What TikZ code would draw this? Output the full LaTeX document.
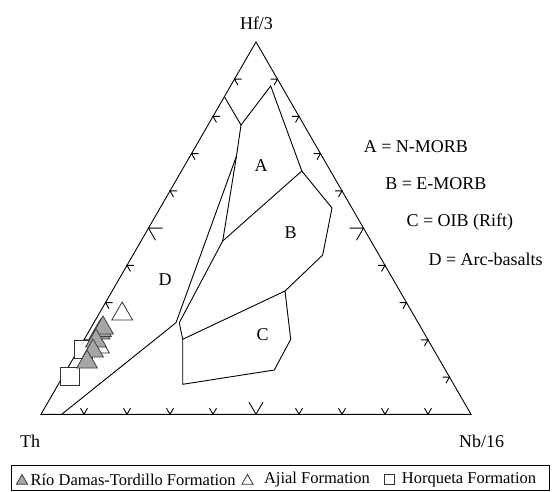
\documentclass[tikz,border=0pt]{standalone}
\usepackage{fontspec}
\setmainfont{Liberation Serif}
\usetikzlibrary{calc, shapes.geometric}

\begin{document}
\begin{tikzpicture}[
  x=1pt, y=-1pt,
  line width=0.9pt,
  every node/.style={font=\fontsize{18}{21}\selectfont},
  key/.style={anchor=west},
  rdt/.style={regular polygon, regular polygon sides=3, minimum size=24pt, inner sep=0pt, draw=black!75, fill=black!35, line width=0.8pt},
  ajial/.style={regular polygon, regular polygon sides=3, minimum size=24pt, inner sep=0pt, draw=black!80, fill=white, line width=0.8pt},
  horq/.style={rectangle, minimum size=18pt, inner sep=0pt, draw=black!80, fill=white, line width=0.8pt},
  legend/.style={font=\fontsize{16.5}{19}\selectfont, anchor=west, inner sep=0pt}
]

\useasboundingbox (0,0) rectangle (557,491);

% Triangle corners
\coordinate (top) at (256,41.9);
\coordinate (bl) at (41,414.3);
\coordinate (br) at (471,414.3);

\draw (top) -- (bl) -- (br) -- cycle;

% Ticks
\foreach \i in {1,...,9} {
  \pgfmathsetmacro{\ticklen}{ifthenelse(\i==5,14,7)}
  \draw ($(top)!\i/10!(bl)$) ++(\ticklen,0) -- ++(-\ticklen,0) -- ++(0.5*\ticklen,0.866*\ticklen);
  \draw ($(top)!\i/10!(br)$) ++(-\ticklen,0) -- ++(\ticklen,0) -- ++(-0.5*\ticklen,0.866*\ticklen);
  \draw ($(bl)!\i/10!(br)$) ++(-0.5*\ticklen,-0.866*\ticklen) -- ++(0.5*\ticklen,0.866*\ticklen) -- ++(0.5*\ticklen,-0.866*\ticklen);
}

% Field boundaries
\coordinate (p1) at (224.4,96.7);
\coordinate (p2) at (241,125);
\coordinate (p3) at (270.7,86);
\coordinate (p4) at (301.8,171);
\coordinate (p5) at (332,208);
\coordinate (p6) at (322.7,255);
\coordinate (q) at (236.5,156);
\coordinate (j) at (222.7,241);
\coordinate (k) at (179.3,322.7);
\coordinate (l) at (176,322.7);
\coordinate (dbase) at (61.7,414.3);
\coordinate (c1) at (182.7,339.3);
\coordinate (c2) at (285,291);
\coordinate (c3) at (290.7,339.3);
\coordinate (c4) at (274.3,370);
\coordinate (c5) at (182.7,384.3);

\draw (p1) -- (p2) -- (p3) -- (p4) -- (j);
\draw (p2) -- (q) -- (j) -- (k) -- (c1);
\draw (q) -- (l) -- (dbase);
\draw (p4) -- (p5) -- (p6) -- (c2);
\draw (c1) -- (c2) -- (c3) -- (c4) -- (c5) -- cycle;

% Field labels
\node (regA) at (261,165.5) {A};
\node (regB) at (290.6,233) {B};
\node (regC) at (262.7,334.3) {C};
\node (regD) at (165,279.3) {D};

\node[key] (keyA) at (360,147) {A = N-MORB};
\node[key] (keyB) at (381.5,184) {B = E-MORB};
\node[key] (keyC) at (402.8,222) {C = OIB (Rift)};
\node[key] (keyD) at (424.8,259) {D = Arc-basalts};

% Apices
\node (hf) at (256.5,23) {Hf/3};
\node (th) at (30.2,441) {Th};
\node (nb) at (481.5,441) {Nb/16};

% Samples
\node[horq] (h1) at (83.5,349) {};
\node[horq, minimum size=18.5pt] (h2) at (70,376.5) {};
\node[ajial] (a2) at (99,347) {};
\node[ajial] (a1) at (122.2,314) {};
\node[rdt] (r3) at (99.5,333) {};
\node[rdt] (r2) at (101,330.6) {};
\node[rdt] (r1) at (103,328) {};
\node[rdt] (r4) at (96,341) {};
\node[rdt] (r5) at (93,351) {};
\node[rdt] (r6) at (87,362) {};

% Legend
\node[draw, minimum width=538pt, minimum height=25pt, inner sep=0pt, anchor=north west] (keybox) at (11,465) {};
\node[rdt, minimum size=13pt] (k1) at (22,481) {};
\node[legend] (t1) at (30.2,480) {Río Damas-Tordillo Formation};
\node[ajial, minimum size=13pt] (k2) at (247.5,481) {};
\node[legend] (t2) at (263.6,480) {Ajial Formation};
\node[horq, minimum size=10pt] (k3) at (389.5,479.5) {};
\node[legend] (t3) at (401.4,480) {Horqueta Formation};

\end{tikzpicture}
\end{document}
